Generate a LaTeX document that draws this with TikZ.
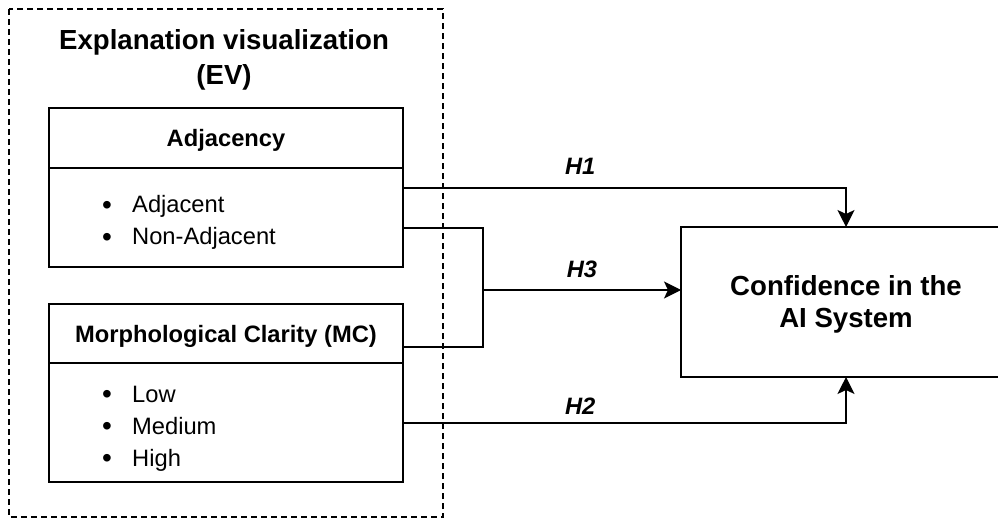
\documentclass[tikz,border=0pt]{standalone}
\usepackage{fontspec}
\setmainfont{Liberation Sans}
\usetikzlibrary{arrows.meta,positioning}

\newcommand{\bul}{\makebox[30pt][l]{\raisebox{-1.2pt}{\fontsize{28}{28}\selectfont\textbullet}}}

\tikzset{
  evframe/.style={draw, line width=1.1pt, dash pattern=on 6pt off 4pt},
  headbox/.style={draw, line width=1.3pt, minimum width=354pt, inner sep=0pt, outer sep=0pt,
    text depth=0pt, font=\fontsize{23.7}{28}\selectfont\bfseries},
  bodybox/.style={draw, line width=1.3pt, minimum width=354pt, inner sep=0pt, outer sep=0pt},
  item/.style={anchor=base west, inner sep=0pt, font=\fontsize{23.7}{28}\selectfont},
  outcome/.style={draw, line width=1.3pt, minimum width=330pt, minimum height=150pt, outer sep=0pt,
    align=center, text depth=0pt, font=\fontsize{27.6}{32}\selectfont\bfseries},
  wire/.style={line width=1.3pt},
  link/.style={wire, -{Stealth[length=17pt,width=17pt,inset=4pt]}},
  hyp/.style={inner sep=0pt, font=\fontsize{23.7}{28}\selectfont\bfseries\itshape}
}

\begin{document}
\begin{tikzpicture}[x=1pt,y=-1pt]
  \useasboundingbox (0,0) rectangle (998,518);

  %Dashed frame round the EV group
  \draw[evframe] (9,9) rectangle (443,517);
  % Text Node
  \node[align=center, inner sep=0pt, text depth=0pt, font=\fontsize{27.6}{35}\selectfont\bfseries]
    (evtitle) at (224,57.5) {Explanation visualization\\(EV)};

  %Adjacency
  \node[headbox, minimum height=60pt] (adjhead) at (226,138) {Adjacency};
  \node[bodybox, minimum height=99pt, below=0pt of adjhead] (adjbody) {};
  \node[item] (adjone) at (102,213) {\bul Adjacent};
  \node[item] (adjtwo) at (102,245) {\bul Non-Adjacent};

  %Morphological clarity
  \node[headbox, minimum height=59pt] (mchead) at (226,333.5) {Morphological Clarity (MC)};
  \node[bodybox, minimum height=119pt, below=0pt of mchead] (mcbody) {};
  \node[item] (mcone) at (102,402) {\bul Low};
  \node[item] (mctwo) at (102,434) {\bul Medium};
  \node[item] (mcthree) at (102,466) {\bul High};

  %Outcome
  \node[outcome] (conf) at (846,302) {Confidence in the\\AI System};

  %Connector ends
  \coordinate (hone) at (adjbody.east |- 0,188);
  \coordinate (adjout) at (adjbody.east |- 0,228);
  \coordinate (mcout) at (mchead.east |- 0,347);
  \coordinate (htwo) at (mcbody.east |- 0,423);
  \coordinate (join) at (483,290);

  %Straight Lines
  \draw[link] (hone) -| node[hyp, pos=0.2, above=13pt] (hlabone) {H1} (conf.north);
  \draw[wire] (adjout) -| (join) |- (mcout);
  \draw[link] (join) -- node[hyp, above=12pt] (hlabthree) {H3} (join -| conf.west);
  \draw[link] (htwo) -| node[hyp, pos=0.2, above=8pt] (hlabtwo) {H2} (conf.south);
\end{tikzpicture}
\end{document}
